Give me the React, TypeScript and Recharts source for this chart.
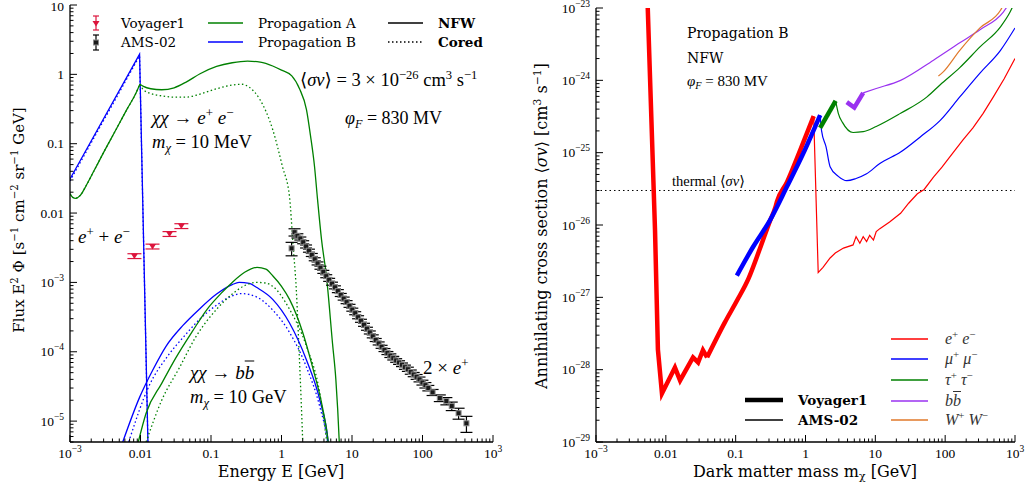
import React from 'react';
import { ComposedChart, Line, Scatter, XAxis, YAxis, ErrorBar, ReferenceLine } from 'recharts';

const SERIF = '"DejaVu Serif", serif';
const MATH = '"Liberation Serif", "DejaVu Serif", serif';

const GREEN = '#008000';
const BLUE = '#0000ff';
const RED = '#ff0000';
const PURPLE = '#9a32f0';
const ORANGE = '#e0782a';
const CRIMSON = '#dc143c';
const DOTS = '1.5 2.5';

// ---------- left panel: flux, [E (GeV), E^2 Phi] ----------
const propAeeRise = [
  [0.001, 0.019], [0.0011, 0.0168], [0.0012, 0.0163], [0.0014, 0.018], [0.0017, 0.025],
  [0.0022, 0.041], [0.003, 0.075], [0.0045, 0.16], [0.0065, 0.32], [0.0085, 0.52], [0.0098, 0.72],
];
const propAeeNfw = [
  [0.0098, 0.72], [0.011, 0.67], [0.014, 0.62], [0.02, 0.6], [0.03, 0.64], [0.045, 0.78],
  [0.07, 1.02], [0.12, 1.3], [0.2, 1.47], [0.33, 1.55], [0.5, 1.5], [0.75, 1.32], [1.0, 1.15],
  [1.4, 0.95], [1.8, 0.62], [2.26, 0.31], [2.58, 0.13], [2.94, 0.047], [3.24, 0.016],
  [3.7, 4.1e-3], [4.35, 1.2e-3], [5.3, 1.3e-4], [5.9, 4e-5], [6.6, 5e-6], [7, 1e-6],
];
const propAeeCored = [
  [0.0098, 0.72], [0.011, 0.6], [0.014, 0.53], [0.02, 0.49], [0.03, 0.47], [0.045, 0.47],
  [0.07, 0.52], [0.12, 0.62], [0.2, 0.7], [0.27, 0.72], [0.35, 0.65], [0.49, 0.44], [0.75, 0.16],
  [1.03, 0.047], [1.3, 0.017], [1.46, 3.4e-3], [1.62, 8e-4], [1.77, 1.1e-4], [1.9, 2e-5],
  [2.0, 5e-6], [2.1, 1e-6],
];
const propBeeNfw = [[0.001, 0.031], [0.0097, 1.95], [0.0128, 4e-6]];
const propBeeCored = [[0.001, 0.029], [0.0097, 1.85], [0.0128, 4e-6]];

const propAbbNfw = [
  [0.0093, 5e-6], [0.012, 1.3e-5], [0.02, 3.5e-5], [0.032, 8.3e-5], [0.055, 2e-4], [0.088, 4.1e-4],
  [0.14, 7e-4], [0.2, 1e-3], [0.3, 1.4e-3], [0.45, 1.65e-3], [0.6, 1.55e-3], [0.75, 1.25e-3],
  [1.0, 8.8e-4], [1.3, 5.7e-4], [2.0, 1.9e-4], [2.76, 6e-5], [3.8, 1.6e-5], [4.6, 5e-6], [5, 2e-6],
];
const propAbbCored = [
  [0.012, 5e-6], [0.02, 2e-5], [0.036, 6e-5], [0.06, 1.6e-4], [0.12, 4.1e-4], [0.2, 6.8e-4],
  [0.3, 9e-4], [0.44, 1e-3], [0.6, 9.8e-4], [0.75, 8.8e-4], [1.3, 4.1e-4], [2.26, 1.2e-4],
  [3.5, 2.5e-5], [4.4, 5e-6], [5, 2e-6],
];
const propBbbNfw = [
  [0.0056, 5e-6], [0.0097, 2.2e-5], [0.015, 5.5e-5], [0.023, 1.2e-4], [0.04, 2.4e-4], [0.068, 4.1e-4],
  [0.12, 6.8e-4], [0.2, 9.3e-4], [0.25, 1e-3], [0.35, 9.7e-4], [0.44, 8.5e-4], [0.75, 5.7e-4],
  [1.3, 2.6e-4], [2.26, 7.6e-5], [3.5, 2e-5], [4.6, 5e-6], [5, 2e-6],
];
const propBbbCored = [
  [0.0068, 5e-6], [0.013, 3.1e-5], [0.025, 9e-5], [0.04, 1.6e-4], [0.068, 2.9e-4], [0.12, 4.7e-4],
  [0.2, 6.4e-4], [0.27, 6.9e-4], [0.44, 6.2e-4], [0.75, 4e-4], [1.3, 1.9e-4], [2.26, 6e-5],
  [3.5, 1.6e-5], [4.5, 5e-6], [5, 2e-6],
];

// [E, flux, relative error]
const voyagerData = [[0.0082, 2.4e-3, 0.08], [0.0148, 3.3e-3, 0.08], [0.0258, 5e-3, 0.08], [0.038, 6.5e-3, 0.08]];
const amsData = [
  [1.39, 3.1e-3, 0.22], [1.53, 5.3e-3, 0.12], [1.68, 4.7e-3, 0.07], [1.85, 4.3e-3, 0.05],
  [2.03, 3.8e-3, 0.05], [2.23, 3.3e-3, 0.05], [2.45, 2.87e-3, 0.05], [2.69, 2.49e-3, 0.05],
  [2.96, 2.16e-3, 0.05], [3.25, 1.88e-3, 0.05], [3.57, 1.63e-3, 0.05], [3.92, 1.42e-3, 0.05],
  [4.31, 1.23e-3, 0.05], [4.74, 1.09e-3, 0.05], [5.21, 9.6e-4, 0.05], [5.73, 8.5e-4, 0.05],
  [6.3, 7.5e-4, 0.05], [6.93, 6.6e-4, 0.05], [7.62, 5.85e-4, 0.05], [8.38, 5.2e-4, 0.05],
  [9.22, 4.6e-4, 0.05], [10.1, 4.05e-4, 0.05], [11.1, 3.6e-4, 0.05], [12.2, 3.15e-4, 0.05],
  [13.4, 2.8e-4, 0.05], [14.8, 2.45e-4, 0.05], [16.3, 2.15e-4, 0.05], [17.9, 1.9e-4, 0.05],
  [19.7, 1.67e-4, 0.05], [21.7, 1.48e-4, 0.05], [23.9, 1.32e-4, 0.05], [26.3, 1.18e-4, 0.05],
  [28.9, 1.06e-4, 0.05], [31.8, 9.6e-5, 0.05], [35, 8.8e-5, 0.06], [38.5, 8.1e-5, 0.06],
  [42.3, 7.5e-5, 0.06], [46.5, 7e-5, 0.06], [51.2, 6.5e-5, 0.06], [56.3, 6e-5, 0.07],
  [62, 5.6e-5, 0.07], [68.2, 5.1e-5, 0.07], [75, 4.7e-5, 0.07], [82.5, 4.35e-5, 0.08],
  [90.7, 4e-5, 0.08], [99.8, 3.6e-5, 0.08], [110, 3.3e-5, 0.09], [121, 3e-5, 0.09],
  [139, 2.6e-5, 0.1], [176, 2.15e-5, 0.11], [218, 1.95e-5, 0.12], [260, 1.65e-5, 0.14],
  [325, 1.3e-5, 0.18], [420, 9.3e-6, 0.26],
];

// ---------- right panel: limits, [m (GeV), <sigma v>] ----------
const eeVoyagerLow = [
  [0.0055, 1.05e-23], [0.007, 8.5e-27], [0.0077, 1.9e-28], [0.0088, 4.7e-29], [0.0135, 1.07e-28],
  [0.016, 7.1e-29], [0.0245, 1.48e-28], [0.029, 1.26e-28], [0.034, 1.86e-28], [0.039, 1.48e-28],
];
const eeVoyagerHigh = [
  [0.039, 1.48e-28], [0.07, 4.5e-28], [0.105, 9.1e-28], [0.152, 1.8e-27], [0.224, 4.8e-27],
  [0.311, 1.15e-26], [0.37, 1.75e-26], [0.39, 2.1e-26], [0.543, 3.9e-26], [0.846, 1.1e-25], [1.31, 3.2e-25],
];
const eeAms = [
  [1.31, 3.2e-25], [1.52, 2.2e-27], [1.78, 2.6e-27], [2.25, 3.5e-27], [2.67, 4.1e-27], [3.5, 4.8e-27],
  [4.8, 5.3e-27], [5.3, 6.9e-27], [6.0, 5.6e-27], [6.7, 6.9e-27], [7.5, 5.9e-27], [8.3, 7.2e-27],
  [9.4, 6.2e-27], [10.3, 8.1e-27], [11.6, 8.9e-27], [16, 1.1e-26], [23, 1.45e-26], [30, 2e-26],
  [40, 2.7e-26], [50, 3.1e-26], [68, 4.6e-26], [90, 6.3e-26], [130, 1e-25], [180, 1.5e-25],
  [250, 2.2e-25], [350, 3.5e-25], [490, 5.9e-25], [700, 1.05e-24], [1000, 2e-24],
];
const mumuVoyager = [
  [0.104, 2e-27], [0.178, 5e-27], [0.311, 1.17e-26], [0.543, 3.4e-26], [0.93, 9.8e-26], [1.62, 3.3e-25],
];
const mumuAms = [
  [1.62, 3.3e-25], [1.7, 2e-25], [1.97, 1.2e-25], [2.25, 6.4e-26], [2.95, 4.7e-26], [3.9, 4.1e-26],
  [5.3, 4.4e-26], [7.5, 5.1e-26], [11.6, 7.1e-26], [23, 1.02e-25], [44, 1.65e-25], [85, 2.8e-25],
  [162, 5.9e-25], [315, 1.26e-24], [620, 2.6e-24], [1000, 5.3e-24],
];
const tautauVoyager = [[1.62, 2.2e-25], [2.7, 5.2e-25]];
const tautauAms = [
  [2.7, 5.2e-25], [2.95, 3.5e-25], [3.4, 2.6e-25], [4.8, 1.9e-25], [6.7, 1.95e-25], [10.3, 2.3e-25],
  [23, 3.5e-25], [55, 5.9e-25], [85, 8.7e-25], [162, 1.5e-24], [315, 2.9e-24], [620, 5.5e-24],
  [850, 8.8e-24], [950, 1.1e-23],
];
const bbVoyager = [[3.9, 5e-25], [5.0, 4.2e-25], [6.7, 6.7e-25]];
const bbAms = [
  [6.7, 6.7e-25], [10.3, 7.7e-25], [23, 1e-24], [68, 1.9e-24], [162, 3.3e-24], [315, 5e-24],
  [680, 8.8e-24], [800, 1.1e-23],
];
const wwAms = [[80, 1.15e-24], [93, 1.3e-24], [162, 2.6e-24], [315, 5.3e-24], [620, 9.3e-24], [700, 1.15e-23]];
const thermalSigmaV = 3e-26;

// ---------- ticks ----------
type Lab = [number, string, string];
const energyLabels: Lab[] = [
  [1e-3, '10', '−3'], [0.01, '0.01', ''], [0.1, '0.1', ''], [1, '1', ''], [10, '10', ''], [100, '100', ''], [1e3, '10', '3'],
];
const fluxLabels: Lab[] = [
  [10, '10', ''], [1, '1', ''], [0.1, '0.1', ''], [0.01, '0.01', ''], [1e-3, '10', '−3'], [1e-4, '10', '−4'], [1e-5, '10', '−5'],
];
const sigmaLabels: Lab[] = [
  [1e-23, '10', '−23'], [1e-24, '10', '−24'], [1e-25, '10', '−25'], [1e-26, '10', '−26'],
  [1e-27, '10', '−27'], [1e-28, '10', '−28'], [1e-29, '10', '−29'],
];

const logTicks = (lo: number, hi: number, min: number, max: number) => {
  const out: number[] = [];
  for (let e = lo; e <= hi; e++) for (let m = 1; m < 10; m++) out.push(m * Math.pow(10, e));
  return out.filter((v) => v >= min * 0.999 && v <= max * 1.001);
};
const energyTicks = logTicks(-3, 3, 1e-3, 1e3);
const fluxTicks = logTicks(-6, 1, 5e-6, 10);
const sigmaTicks = logTicks(-29, -23, 1e-29, 1e-23);

const isMajor = (v: number) => {
  const l = Math.log10(v);
  return Math.abs(l - Math.round(l)) < 1e-6;
};

const mkTick = (side: 'bottom' | 'top' | 'left' | 'right', labels?: Lab[]) => (p: any) => {
  const { x, y, payload } = p;
  const v = payload.value as number;
  const len = isMajor(v) ? 7 : 3.5;
  const lab = labels ? labels.find((l) => Math.abs(v / l[0] - 1) < 1e-6) : undefined;
  let tl;
  if (side === 'bottom') tl = <line x1={x} x2={x} y1={y} y2={y - len} />;
  else if (side === 'top') tl = <line x1={x} x2={x} y1={y} y2={y + len} />;
  else if (side === 'left') tl = <line x1={x} x2={x + len} y1={y} y2={y} />;
  else tl = <line x1={x} x2={x - len} y1={y} y2={y} />;
  return (
    <g>
      <g stroke="#000" strokeWidth={1}>{tl}</g>
      {lab && (
        <text
          x={side === 'left' ? x - 6 : x}
          y={side === 'left' ? Math.max(y + 4.5, 11) : y + 16}
          textAnchor={side === 'left' ? 'end' : 'middle'}
          fontFamily={MATH}
          fontSize={13.5}
          fill="#000"
        >
          {lab[1]}
          {lab[2] && (
            <tspan dy={-6} fontSize={9.5}>
              {lab[2]}
            </tspan>
          )}
        </text>
      )}
    </g>
  );
};

const toPts = (rows: number[][]) => rows.map(([x, y]) => ({ x, y }));
const toErr = (rows: number[][]) => rows.map(([x, y, r]) => ({ x, y, err: [y * r, y * r] }));

const AmsSquare = (p: any) => (
  <rect x={p.cx - 2.5} y={p.cy - 2.5} width={5} height={5} fill="#1a1a1a" stroke="#8a8a8a" strokeWidth={1} />
);
const VoyTri = (p: any) => <path d={`M${p.cx - 3.5},${p.cy - 2.5} L${p.cx + 3.5},${p.cy - 2.5} L${p.cx},${p.cy + 3} Z`} fill={CRIMSON} />;

const Sup = ({ children }: { children: React.ReactNode }) => (
  <span style={{ fontSize: '0.68em', position: 'relative', top: '-0.55em' }}>{children}</span>
);
const Sub = ({ children }: { children: React.ReactNode }) => (
  <span style={{ fontSize: '0.68em', position: 'relative', top: '0.3em' }}>{children}</span>
);

const Txt = ({ x, y, size = 16, font = MATH, weight, center, rotate, spacing, children }: any) => (
  <div
    style={{
      position: 'absolute',
      left: x,
      top: y,
      transform: `${center || rotate ? 'translate(-50%,-50%)' : 'translateY(-50%)'}${rotate ? ' rotate(-90deg)' : ''}`,
      fontSize: size,
      fontFamily: font,
      fontWeight: weight,
      letterSpacing: spacing,
      whiteSpace: 'nowrap',
      lineHeight: 1,
      color: '#000',
    }}
  >
    {children}
  </div>
);

const axisLine = { stroke: '#000', strokeWidth: 1.3 };

const commonX = {
  dataKey: 'x',
  type: 'number' as const,
  scale: 'log' as const,
  domain: [1e-3, 1e3],
  ticks: energyTicks,
  interval: 0,
  tickLine: false,
  tickSize: 0,
  tickMargin: 0,
  axisLine,
  allowDataOverflow: true,
};

const thin = (data: number[][], color: string, dotted = false, type: any = 'monotone', w = 1.3) => (
  <Line
    data={toPts(data)}
    dataKey="y"
    type={type}
    stroke={color}
    strokeWidth={w}
    strokeDasharray={dotted ? DOTS : undefined}
    dot={false}
    activeDot={false}
    isAnimationActive={false}
  />
);

const FluxChart = () => (
  <ComposedChart width={520} height={496} margin={{ top: 5, right: 27, bottom: 0, left: 0 }}>
    <XAxis {...commonX} height={54} tick={mkTick('bottom', energyLabels)} />
    <XAxis {...commonX} xAxisId="t" orientation="top" height={0} tick={mkTick('top')} />
    <YAxis dataKey="y" type="number" scale="log" domain={[5e-6, 10]} ticks={fluxTicks} interval={0} tickLine={false} tickSize={0} tickMargin={0} axisLine={axisLine} width={70} allowDataOverflow tick={mkTick('left', fluxLabels)} />
    <YAxis yAxisId="r" orientation="right" type="number" scale="log" domain={[5e-6, 10]} ticks={fluxTicks} interval={0} tickLine={false} tickSize={0} tickMargin={0} axisLine={axisLine} width={0} allowDataOverflow tick={mkTick('right')} />
    {thin(propBeeNfw, BLUE, false, 'linear')}
    {thin(propBeeCored, BLUE, true, 'linear')}
    {thin(propAeeRise, GREEN, false)}
    {thin(propAeeRise, GREEN, true)}
    {thin(propAeeNfw, GREEN, false)}
    {thin(propAeeCored, GREEN, true)}
    {thin(propBbbNfw, BLUE, false)}
    {thin(propBbbCored, BLUE, true)}
    {thin(propAbbNfw, GREEN, false)}
    {thin(propAbbCored, GREEN, true)}
    <Scatter data={toErr(voyagerData)} dataKey="y" shape={VoyTri} isAnimationActive={false}>
      <ErrorBar dataKey="err" direction="y" width={7} stroke={CRIMSON} strokeWidth={1.2} />
    </Scatter>
    <Scatter data={toErr(amsData)} dataKey="y" shape={AmsSquare} isAnimationActive={false}>
      <ErrorBar dataKey="err" direction="y" width={6} stroke="#000" strokeWidth={1.2} />
    </Scatter>
  </ComposedChart>
);

const LimitChart = () => (
  <ComposedChart width={505} height={496} margin={{ top: 8, right: 10, bottom: 0, left: 0 }}>
    <XAxis {...commonX} height={54} tick={mkTick('bottom', energyLabels)} />
    <XAxis {...commonX} xAxisId="t" orientation="top" height={0} tick={mkTick('top')} />
    <YAxis dataKey="y" type="number" scale="log" domain={[1e-29, 1e-23]} ticks={sigmaTicks} interval={0} tickLine={false} tickSize={0} tickMargin={0} axisLine={axisLine} width={76} allowDataOverflow tick={mkTick('left', sigmaLabels)} />
    <YAxis yAxisId="r" orientation="right" type="number" scale="log" domain={[1e-29, 1e-23]} ticks={sigmaTicks} interval={0} tickLine={false} tickSize={0} tickMargin={0} axisLine={axisLine} width={0} allowDataOverflow tick={mkTick('right')} />
    <ReferenceLine y={thermalSigmaV} stroke="#000" strokeWidth={1} strokeDasharray="1.5 3" />
    {thin(eeVoyagerLow, RED, false, 'linear', 4.5)}
    {thin(eeVoyagerHigh, RED, false, 'monotone', 4.5)}
    {thin(eeAms, RED, false, 'linear', 1.2)}
    {thin(mumuVoyager, BLUE, false, 'monotone', 4.5)}
    {thin(mumuAms, BLUE, false, 'monotone', 1.2)}
    {thin(tautauVoyager, GREEN, false, 'linear', 4.5)}
    {thin(tautauAms, GREEN, false, 'monotone', 1.2)}
    {thin(bbVoyager, PURPLE, false, 'linear', 4.5)}
    {thin(bbAms, PURPLE, false, 'monotone', 1.2)}
    {thin(wwAms, ORANGE, false, 'monotone', 1.2)}
  </ComposedChart>
);

const channels: [string, React.ReactNode][] = [
  [RED, <><i>e</i><Sup>+</Sup> <i>e</i><Sup>−</Sup></>],
  [BLUE, <><i>μ</i><Sup>+</Sup> <i>μ</i><Sup>−</Sup></>],
  [GREEN, <><i>τ</i><Sup>+</Sup> <i>τ</i><Sup>−</Sup></>],
  [PURPLE, <><i>b</i><i style={{ textDecoration: 'overline' }}>b</i></>],
  [ORANGE, <><i>W</i><Sup>+</Sup> <i>W</i><Sup>−</Sup></>],
];
const channelY = [339, 359, 380, 401, 420];

export default function App() {
  return (
    <div style={{ position: 'absolute', left: 0, top: 0, width: 1025, height: 496, background: '#fff', overflow: 'hidden' }}>
      <div style={{ position: 'absolute', left: 0, top: 0 }}>
        <FluxChart />
      </div>
      <div style={{ position: 'absolute', left: 520, top: 0 }}>
        <LimitChart />
      </div>

      <svg width={1025} height={496} style={{ position: 'absolute', left: 0, top: 0, pointerEvents: 'none' }}>
        <g stroke={CRIMSON} strokeWidth={1.2}>
          <line x1={96} x2={96} y1={16} y2={30} />
          <line x1={93} x2={99} y1={16} y2={16} />
          <line x1={93} x2={99} y1={30} y2={30} />
        </g>
        <path d="M92.5,21 L99.5,21 L96,26.5 Z" fill={CRIMSON} />
        <g stroke="#000" strokeWidth={1.2}>
          <line x1={96} x2={96} y1={35} y2={50} />
          <line x1={93} x2={99} y1={35} y2={35} />
          <line x1={93} x2={99} y1={50} y2={50} />
        </g>
        <rect x={93.5} y={40} width={5} height={5} fill="#1a1a1a" stroke="#8a8a8a" />
        <line x1={208} x2={243} y1={23} y2={23} stroke={GREEN} strokeWidth={1.6} />
        <line x1={208} x2={243} y1={42} y2={42} stroke={BLUE} strokeWidth={1.6} />
        <line x1={388} x2={423} y1={23} y2={23} stroke="#000" strokeWidth={1.6} />
        <line x1={388} x2={423} y1={42} y2={42} stroke="#000" strokeWidth={1.6} strokeDasharray={DOTS} />
        <line x1={745} x2={783} y1={400} y2={400} stroke="#000" strokeWidth={4.5} />
        <line x1={745} x2={783} y1={420} y2={420} stroke="#000" strokeWidth={1.3} />
        {channels.map(([c], i) => (
          <line key={i} x1={891} x2={928} y1={channelY[i]} y2={channelY[i]} stroke={c} strokeWidth={1.3} />
        ))}
      </svg>

      <Txt x={121} y={24} size={13.5} font={SERIF}>Voyager1</Txt>
      <Txt x={121} y={43} size={13.5} font={SERIF}>AMS-02</Txt>
      <Txt x={258} y={24} size={13.5} font={SERIF}>Propagation A</Txt>
      <Txt x={258} y={43} size={13.5} font={SERIF}>Propagation B</Txt>
      <Txt x={438} y={24} size={13.5} font={SERIF} weight="bold">NFW</Txt>
      <Txt x={438} y={43} size={13.5} font={SERIF} weight="bold">Cored</Txt>

      <Txt x={300} y={80} size={18.5}>⟨<i>σv</i>⟩ = 3 × 10<Sup>−26</Sup> cm<Sup>3</Sup> s<Sup>−1</Sup></Txt>
      <Txt x={345} y={118} size={18}><i>φ</i><Sub><i>F</i></Sub> = 830 MV</Txt>
      <Txt x={152} y={117} size={19}><i>χχ</i> → <i>e</i><Sup>+</Sup> <i>e</i><Sup>−</Sup></Txt>
      <Txt x={152} y={142} size={18.5}><i>m</i><Sub><i>χ</i></Sub> = 10 MeV</Txt>
      <Txt x={78} y={236} size={19}><i>e</i><Sup>+</Sup> + <i>e</i><Sup>−</Sup></Txt>
      <Txt x={190} y={372} size={19}><i>χχ</i> → <i>b</i><i style={{ textDecoration: 'overline' }}>b</i></Txt>
      <Txt x={190} y={397} size={18.5}><i>m</i><Sub><i>χ</i></Sub> = 10 GeV</Txt>
      <Txt x={423} y={367} size={19}>2 × <i>e</i><Sup>+</Sup></Txt>

      <Txt x={281} y={472} size={16} font={SERIF} center>Energy E [GeV]</Txt>
      <Txt x={19} y={220} size={15} font={SERIF} rotate>
        Flux E<Sup>2</Sup> Φ [s<Sup>−1</Sup> cm<Sup>−2</Sup> sr<Sup>−1</Sup> GeV]
      </Txt>

      <Txt x={687} y={33} size={14} font={SERIF}>Propagation B</Txt>
      <Txt x={687} y={58} size={14} font={SERIF}>NFW</Txt>
      <Txt x={687} y={81} size={15}><i>φ</i><Sub><i>F</i></Sub> = 830 MV</Txt>
      <Txt x={672} y={181} size={14.5}>thermal ⟨<i>σv</i>⟩</Txt>
      <Txt x={798} y={401} size={13.5} font={SERIF} weight="bold">Voyager1</Txt>
      <Txt x={798} y={421} size={13.5} font={SERIF} weight="bold">AMS-02</Txt>
      {channels.map(([, lab], i) => (
        <Txt key={i} x={945} y={channelY[i]} size={16}>
          <span style={{ color: '#333' }}>{lab}</span>
        </Txt>
      ))}

      <Txt x={805} y={472} size={16} font={SERIF} center>
        Dark matter mass m<Sub>χ</Sub> [GeV]
      </Txt>
      <Txt x={542} y={226} size={16} font={SERIF} rotate>
        Annihilating cross section ⟨<i>σv</i>⟩ [cm<Sup>3</Sup> s<Sup>−1</Sup>]
      </Txt>
    </div>
  );
}
